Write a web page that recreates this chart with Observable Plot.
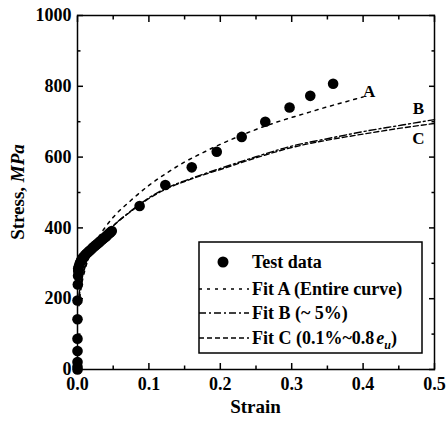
<!DOCTYPE html>
<html>
<head>
<meta charset="utf-8">
<script src="https://cdn.jsdelivr.net/npm/d3@7"></script>
<script src="https://cdn.jsdelivr.net/npm/@observablehq/plot@0.6"></script>
<style>
  html, body { margin: 0; padding: 0; background: #fff; }
  #chart { width: 446px; height: 430px; }
  #chart svg text { font-family: 'Liberation Serif', 'Times New Roman', Times, serif; }
</style>
</head>
<body>
<div id="chart"></div>
<script>
// ---- Data ----
const testStrain = [0, 0, 0, 0, 0, 0, 0, 0.0005, 0.0008, 0.001,
  0.001, 0.002, 0.003, 0.004, 0.005, 0.006, 0.007, 0.008, 0.010, 0.012,
  0.014, 0.016, 0.018, 0.020, 0.022, 0.024, 0.026, 0.028, 0.030, 0.032,
  0.034, 0.036, 0.038, 0.040, 0.042, 0.044, 0.046, 0.048,
  0.087, 0.123, 0.160, 0.195, 0.230, 0.263, 0.297, 0.326, 0.358];
const testStress = [0, 8, 21, 52, 87, 142, 195, 240, 265, 278,
  285, 292, 298, 303, 307, 311, 314, 317, 322, 326,
  330, 334, 337, 341, 345, 348, 352, 355, 359, 362,
  366, 369, 373, 376, 380, 384, 387, 391,
  462, 521, 571, 615, 657, 700, 740, 773, 807];

const fitAStrain = [0.002, 0.005, 0.01, 0.02, 0.03, 0.04, 0.05, 0.075, 0.1, 0.125, 0.15, 0.175, 0.2, 0.225, 0.25, 0.275, 0.3, 0.325, 0.35, 0.375, 0.4];
const fitAStress = [180, 230, 278, 336, 375, 405, 430, 478, 520, 555, 586, 612, 636, 658, 678, 696, 712, 727, 742, 756, 770];

const fitBCStrain = [0.002, 0.005, 0.01, 0.02, 0.03, 0.04, 0.05, 0.075, 0.1, 0.125, 0.15, 0.175, 0.2, 0.25, 0.3, 0.35, 0.4, 0.45, 0.5];
const fitBStress = [198, 245, 285, 330, 362, 386, 406, 448, 485, 513, 533, 551, 568, 601, 631, 652, 672, 689, 706];
const fitCStress = [210, 252, 290, 333, 363, 387, 406, 447, 483, 511, 531, 549, 565, 598, 627, 648, 665, 681, 695];

const xMajor = [0, 0.1, 0.2, 0.3, 0.4, 0.5];
const xMinor = [0.05, 0.15, 0.25, 0.35, 0.45];
const yMajor = [0, 200, 400, 600, 800, 1000];
const yMinor = [100, 300, 500, 700, 900];

const fitNames = ["A", "B", "C"];
const legendLabels = ["Test data", "Fit A (Entire curve)", "Fit B (~ 5%)", "Fit C (0.1%~0.8"];

// ---- Build tables ----
const test = testStrain.map((x, i) => ({x, y: testStress[i]}));
const fitA = fitAStrain.map((x, i) => ({x, y: fitAStress[i]}));
const fitB = fitBCStrain.map((x, i) => ({x, y: fitBStress[i]}));
const fitC = fitBCStrain.map((x, i) => ({x, y: fitCStress[i]}));

const dashA = "3,5", dashB = "7,3,2,3", dashC = "5,3";
const font = "'Liberation Serif', 'Times New Roman', Times, serif";

const tickOpts = {tickFormat: () => "", label: null, strokeWidth: 1.5};

const chart = Plot.plot({
  width: 446,
  height: 430,
  marginLeft: 77,
  marginRight: 12,
  marginTop: 15,
  marginBottom: 61,
  style: {fontFamily: font, fontWeight: "bold", fontSize: "18px", background: "#fff", color: "#000", overflow: "visible"},
  x: {domain: [0, 0.5]},
  y: {domain: [0, 1000]},
  marks: [
    Plot.axisX({...tickOpts, ticks: xMajor, anchor: "bottom", tickSize: -6}),
    Plot.axisX({...tickOpts, ticks: xMajor, anchor: "top", tickSize: -6}),
    Plot.axisX({...tickOpts, ticks: xMinor, anchor: "bottom", tickSize: -3.5}),
    Plot.axisX({...tickOpts, ticks: xMinor, anchor: "top", tickSize: -3.5}),
    Plot.axisY({...tickOpts, ticks: yMajor, anchor: "left", tickSize: -6}),
    Plot.axisY({...tickOpts, ticks: yMajor, anchor: "right", tickSize: -6}),
    Plot.axisY({...tickOpts, ticks: yMinor, anchor: "left", tickSize: -3.5}),
    Plot.axisY({...tickOpts, ticks: yMinor, anchor: "right", tickSize: -3.5}),
    Plot.axisX({ticks: xMajor, anchor: "bottom", tickSize: 0, tickPadding: 8, tickFormat: d => d.toFixed(1), label: null, fontSize: 18}),
    Plot.axisY({ticks: yMajor, anchor: "left", tickSize: 0, tickPadding: 6, tickFormat: d => String(d), label: null, fontSize: 18}),
    Plot.line(fitA, {x: "x", y: "y", stroke: "#000", strokeWidth: 1.5, strokeDasharray: dashA, curve: "monotone-x"}),
    Plot.line(fitB, {x: "x", y: "y", stroke: "#000", strokeWidth: 1.4, strokeDasharray: dashB, curve: "monotone-x"}),
    Plot.line(fitC, {x: "x", y: "y", stroke: "#000", strokeWidth: 1.4, strokeDasharray: dashC, curve: "monotone-x"}),
    Plot.dot(test, {x: "x", y: "y", r: 5.3, fill: "#000", stroke: "none"}),
    Plot.text([fitA[fitA.length - 1]], {x: "x", y: "y", text: () => fitNames[0], textAnchor: "start", dx: 0, dy: -5, fontSize: 17, fontWeight: "bold"}),
    Plot.text([fitB[fitB.length - 1]], {x: "x", y: "y", text: () => fitNames[1], textAnchor: "middle", dx: -16, dy: -11, fontSize: 17, fontWeight: "bold"}),
    Plot.text([fitC[fitC.length - 1]], {x: "x", y: "y", text: () => fitNames[2], textAnchor: "middle", dx: -16, dy: 15, fontSize: 17, fontWeight: "bold"}),
    Plot.frame({stroke: "#000", strokeWidth: 1.5})
  ]
});

document.getElementById("chart").appendChild(chart);

// ---- Axis titles & legend ----
const svg = d3.select(chart);
const X = chart.scale("x"), Y = chart.scale("y");
const x0 = X.apply(0), x1 = X.apply(0.5), y0 = Y.apply(0), y1 = Y.apply(1000);

svg.append("text")
  .attr("x", (x0 + x1) / 2).attr("y", 413)
  .attr("text-anchor", "middle")
  .style("font-family", font).style("font-weight", "bold").style("font-size", "19px")
  .text("Strain");

const yt = svg.append("text")
  .attr("transform", `translate(24,${(y0 + y1) / 2}) rotate(-90)`)
  .attr("text-anchor", "middle")
  .style("font-family", font).style("font-weight", "bold").style("font-size", "19px");
yt.append("tspan").text("Stress, ");
yt.append("tspan").style("font-style", "italic").text("MPa");

const lg = svg.append("g").style("font-family", font).style("font-weight", "bold").style("font-size", "18px");
const bx = 199, by = 242, bw = 223, bh = 111;
lg.append("rect").attr("x", bx).attr("y", by).attr("width", bw).attr("height", bh)
  .attr("fill", "#fff").attr("stroke", "#000").attr("stroke-width", 1.5);
const rowsY = [262, 289, 313, 338];
const textX = 252;
lg.append("circle").attr("cx", 223).attr("cy", rowsY[0]).attr("r", 5.5).attr("fill", "#000");
[dashA, dashB, dashC].forEach((d, i) => {
  lg.append("line").attr("x1", bx).attr("x2", 249).attr("y1", rowsY[i + 1]).attr("y2", rowsY[i + 1])
    .attr("stroke", "#000").attr("stroke-width", 1.6).attr("stroke-dasharray", d);
});
legendLabels.forEach((t, i) => {
  const el = lg.append("text").attr("x", textX).attr("y", rowsY[i]).attr("dy", "0.35em")
    .attr("text-anchor", "start").text(t);
  if (i === 3) {
    el.append("tspan").style("font-style", "italic").attr("dx", 2).text("e");
    el.append("tspan").style("font-style", "italic").style("font-size", "12px").attr("dy", 5).text("u");
    el.append("tspan").attr("dy", -5).text(")");
  }
});
</script>
</body>
</html>
